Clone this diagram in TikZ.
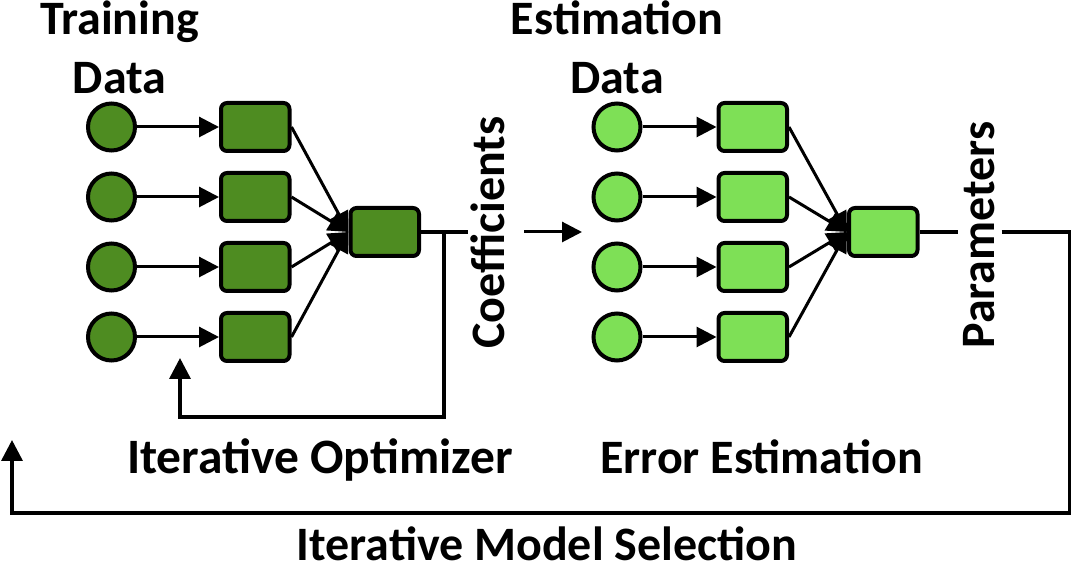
\documentclass[tikz,border=0pt]{standalone}
\usepackage{fontspec}
\setmainfont{Carlito}
\usepackage{xcolor}
\usetikzlibrary{arrows.meta, positioning, calc}
\definecolor{darkleaf}{RGB}{78,140,33}
\definecolor{lightleaf}{RGB}{126,224,86}

\begin{document}
\begin{tikzpicture}[
    x=1pt, y=1pt,
    node distance=19pt and 82pt,
    dot/.style={circle, draw, line width=4pt, minimum size=47pt, inner sep=0pt},
    unit/.style={rectangle, draw, rounded corners=6pt, line width=4pt, minimum width=68.5pt, minimum height=48pt, inner sep=0pt},
    lbl/.style={font=\bfseries\fontsize{48}{59}\selectfont, inner sep=0pt},
    arrow/.style={-{Triangle[length=20pt, width=20pt]}, line width=3pt},
    wire/.style={line width=3.5pt},
    fb/.style={wire, -{Triangle[length=21pt, width=21pt]}},
]
\useasboundingbox (0,0) rectangle (1072,568);

% Training side
\node[dot, fill=darkleaf] (lc1) at (111.5,441) {};
\node[dot, fill=darkleaf, below=of lc1] (lc2) {};
\node[dot, fill=darkleaf, below=of lc2] (lc3) {};
\node[dot, fill=darkleaf, below=of lc3] (lc4) {};
\node[unit, fill=darkleaf, right=of lc1] (lb1) {};
\node[unit, fill=darkleaf, right=of lc2] (lb2) {};
\node[unit, fill=darkleaf, right=of lc3] (lb3) {};
\node[unit, fill=darkleaf, right=of lc4] (lb4) {};
\coordinate (lmid) at ($(lb2.east)!0.5!(lb3.east)$);
\node[unit, fill=darkleaf, right=57pt of lmid] (lo) {};
\node[lbl, align=center, anchor=south] (ltitle) at (119.5,474) {Training\\Data};

% Estimation side
\node[dot, fill=lightleaf] (rc1) at (617,441) {};
\node[dot, fill=lightleaf, below=of rc1] (rc2) {};
\node[dot, fill=lightleaf, below=of rc2] (rc3) {};
\node[dot, fill=lightleaf, below=of rc3] (rc4) {};
\node[unit, fill=lightleaf, right=74pt of rc1] (rb1) {};
\node[unit, fill=lightleaf, right=74pt of rc2] (rb2) {};
\node[unit, fill=lightleaf, right=74pt of rc3] (rb3) {};
\node[unit, fill=lightleaf, right=74pt of rc4] (rb4) {};
\coordinate (rmid) at ($(rb2.east)!0.5!(rb3.east)$);
\node[unit, fill=lightleaf, right=58pt of rmid] (ro) {};
\node[lbl, align=center, anchor=south] (rtitle) at (617,474) {Estimation\\Data};

% Labels
\node[lbl, rotate=90, anchor=base] (coef) at (504,335.5) {Coefficients};
\node[lbl, rotate=90, anchor=base] (param) at (994,333) {Parameters};
\node[lbl, font=\bfseries\fontsize{49.5}{59}\selectfont, anchor=base] (optim) at (320,94) {Iterative Optimizer};
\node[lbl, anchor=base] (errest) at (761.5,94) {Error Estimation};
\node[lbl, anchor=base] (modsel) at (547,7) {Iterative Model Selection};

% Helper points
\coordinate[right=23pt of lo] (lfork);
\coordinate[right=47pt of lo] (lcut);
\coordinate[right=103pt of lo] (cstart);
\coordinate[right=161pt of lo] (cend);
\coordinate (lturn) at (180,151);
\coordinate (lgoal) at (180,210);
\coordinate[right=38pt of ro] (rcut);
\coordinate[right=82pt of ro] (rresume);
\coordinate[right=150pt of ro] (rcorner);
\coordinate (rturn) at (12,55);
\coordinate (rgoal) at (12,128);

% Arrows
\draw[arrow] (lc1) -- (lb1);
\draw[arrow] (lc2) -- (lb2);
\draw[arrow] (lc3) -- (lb3);
\draw[arrow] (lc4) -- (lb4);
\draw[arrow] (lb1.east) -- (lo.west);
\draw[arrow] (lb2.east) -- (lo.west);
\draw[arrow] (lb3.east) -- (lo.west);
\draw[arrow] (lb4.east) -- (lo.west);
\draw[arrow] (rc1) -- (rb1);
\draw[arrow] (rc2) -- (rb2);
\draw[arrow] (rc3) -- (rb3);
\draw[arrow] (rc4) -- (rb4);
\draw[arrow] (rb1.east) -- (ro.west);
\draw[arrow] (rb2.east) -- (ro.west);
\draw[arrow] (rb3.east) -- (ro.west);
\draw[arrow] (rb4.east) -- (ro.west);

% Loops
\draw[wire] (lo) -- (lcut);
\draw[fb] (lfork) |- (lturn) -- (lgoal);
\draw[arrow] (cstart) -- (cend);
\draw[wire] (ro) -- (rcut);
\draw[fb] (rresume) -- (rcorner) |- (rturn) -- (rgoal);

\end{tikzpicture}
\end{document}
